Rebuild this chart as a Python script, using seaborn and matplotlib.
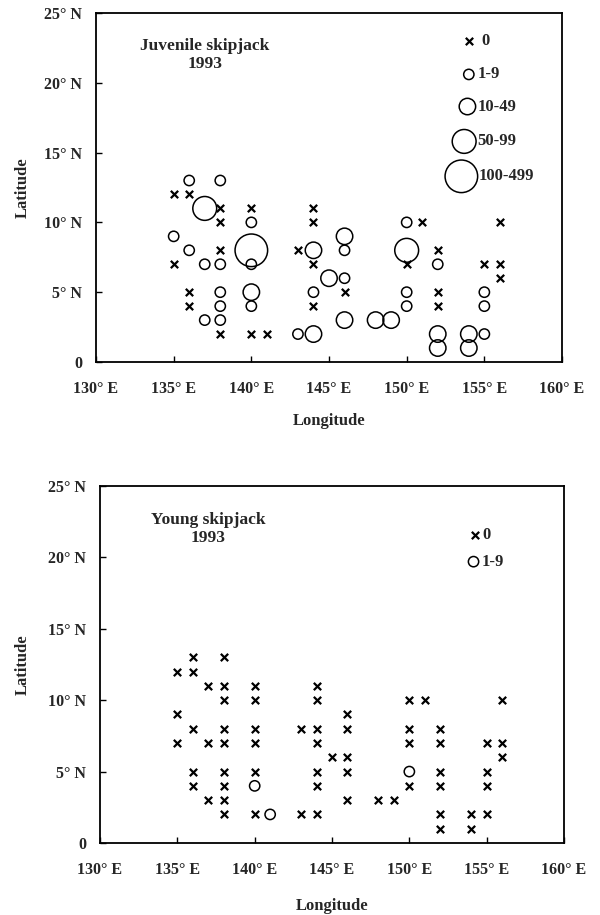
import numpy as np
import pandas as pd
import matplotlib
matplotlib.use("Agg")
import matplotlib.pyplot as plt
import seaborn as sns

# ---------------- data ----------------
lon = [136, 138,
       135, 136,
       137, 138, 140, 144,
       138, 140, 144, 150, 151, 156,
       135, 146,
       136, 138, 140, 143, 144, 146, 150, 152,
       135, 137, 138, 140, 144, 150, 152, 155, 156,
       145, 146, 156,
       136, 138, 140, 144, 146, 150, 152, 155,
       136, 138, 140, 144, 150, 152, 155,
       137, 138, 146, 148, 149,
       138, 140, 141, 143, 144, 152, 154, 155,
       152, 154]
lat = [13, 13,
       12, 12,
       11, 11, 11, 11,
       10, 10, 10, 10, 10, 10,
       9, 9,
       8, 8, 8, 8, 8, 8, 8, 8,
       7, 7, 7, 7, 7, 7, 7, 7, 7,
       6, 6, 6,
       5, 5, 5, 5, 5, 5, 5, 5,
       4, 4, 4, 4, 4, 4, 4,
       3, 3, 3, 3, 3,
       2, 2, 2, 2, 2, 2, 2, 2,
       1, 1]
categories = ["0", "1-9", "10-49", "50-99", "100-499"]
# index into categories for each station
juvenile = [1, 1,
            0, 0,
            3, 0, 0, 0,
            0, 1, 0, 1, 0, 0,
            1, 2,
            1, 0, 4, 0, 2, 1, 3, 0,
            0, 1, 1, 1, 0, 0, 1, 0, 0,
            2, 1, 0,
            0, 1, 2, 1, 0, 1, 0, 1,
            0, 1, 1, 0, 1, 0, 1,
            1, 1, 2, 2, 2,
            0, 0, 0, 1, 2, 2, 2, 1,
            2, 2]
young = [0, 0,
         0, 0,
         0, 0, 0, 0,
         0, 0, 0, 0, 0, 0,
         0, 0,
         0, 0, 0, 0, 0, 0, 0, 0,
         0, 0, 0, 0, 0, 0, 0, 0, 0,
         0, 0, 0,
         0, 0, 0, 0, 0, 1, 0, 0,
         0, 0, 1, 0, 0, 0, 0,
         0, 0, 0, 0, 0,
         0, 0, 1, 0, 0, 0, 0, 0,
         0, 0]
xticks = [130, 135, 140, 145, 150, 155, 160]
xticklabels = ["130° E", "135° E", "140° E", "145° E", "150° E", "155° E", "160° E"]
yticks = [0, 5, 10, 15, 20, 25]
yticklabels = ["0", "5° N", "10° N", "15° N", "20° N", "25° N"]
titles = ["Juvenile skipjack\n1993", "Young skipjack\n1993"]

# ---------------- style ----------------
sns.set_style("ticks")
plt.rcParams["font.family"] = ["Liberation Serif", "DejaVu Serif"]
plt.rcParams["font.weight"] = "bold"

FS_TICK = 11.5
FS_LAB = 12
FS_TXT = 12.5
FS_LEG = 12

# marker sizes (points^2) for the circle classes
circle_sizes = {"1-9": 55, "10-49": 140, "50-99": 295, "100-499": 550}
X_SIZE = 28

fig = plt.figure(figsize=(6.0, 9.15), dpi=100)
ax1 = fig.add_axes([0.160, 0.6044, 0.7767, 0.3814])
ax2 = fig.add_axes([0.1667, 0.0787, 0.7733, 0.3902])


def draw_panel(ax, cats, title, legend_rows):
    df = pd.DataFrame({"lon": lon, "lat": lat,
                       "cls": [categories[c] for c in cats]})
    zeros = df[df["cls"] == "0"]
    circ = df[df["cls"] != "0"]
    sns.scatterplot(data=zeros, x="lon", y="lat", marker="x", color="black",
                    s=X_SIZE, linewidth=1.6, ax=ax, legend=False, zorder=3)
    if len(circ):
        order = [c for c in categories[1:] if c in set(circ["cls"])]
        sns.scatterplot(data=circ, x="lon", y="lat", size="cls",
                        sizes={k: circle_sizes[k] for k in order},
                        size_order=order, marker="o", color="black",
                        facecolor="none", edgecolor="black", linewidth=1.1,
                        ax=ax, legend=False, zorder=3)
    ax.set_xlim(130, 160)
    ax.set_ylim(0, 25)
    ax.set_xticks(xticks)
    ax.set_xticklabels(xticklabels, fontsize=FS_TICK, fontweight="bold")
    ax.set_yticks(yticks)
    ax.set_yticklabels(yticklabels, fontsize=FS_TICK, fontweight="bold")
    ax.tick_params(axis="both", direction="in", length=4, width=1, color="black")
    ax.tick_params(axis="x", pad=14)
    ax.tick_params(axis="y", pad=10)
    for sp in ax.spines.values():
        sp.set_visible(True)
        sp.set_color("black")
        sp.set_linewidth(1.3)
    ax.set_xlabel("Longitude", fontsize=FS_LAB, fontweight="bold")
    ax.set_ylabel("Latitude", fontsize=FS_LAB, fontweight="bold")
    ax.text(0.233, 0.88, title, transform=ax.transAxes, ha="center",
            va="center", fontsize=FS_TXT, fontweight="bold", linespacing=1.2)
    # manual legend
    for (label, mx, my, tx) in legend_rows:
        if label == "0":
            ax.scatter([mx], [my], marker="x", s=X_SIZE, color="black",
                       linewidth=1.6, transform=ax.transAxes, clip_on=False)
        else:
            ax.scatter([mx], [my], marker="o", s=circle_sizes[label],
                       facecolor="none", edgecolor="black", linewidth=1.1,
                       transform=ax.transAxes, clip_on=False)
        ax.text(tx, my, label, transform=ax.transAxes, ha="left", va="center",
                fontsize=FS_LEG, fontweight="bold")


legend1 = [("0", 0.800, 0.920, 0.826),
           ("1-9", 0.800, 0.824, 0.818),
           ("10-49", 0.797, 0.732, 0.818),
           ("50-99", 0.790, 0.632, 0.818),
           ("100-499", 0.784, 0.532, 0.820)]
legend2 = [("0", 0.808, 0.864, 0.825),
           ("1-9", 0.805, 0.788, 0.822)]

draw_panel(ax1, juvenile, titles[0], legend1)
draw_panel(ax2, young, titles[1], legend2)

ax1.yaxis.set_label_coords(-0.140, 0.5)
ax2.yaxis.set_label_coords(-0.149, 0.5)
ax1.xaxis.set_label_coords(0.5, -0.145)
ax2.xaxis.set_label_coords(0.5, -0.155)

fig.savefig("out.png", dpi=100)
